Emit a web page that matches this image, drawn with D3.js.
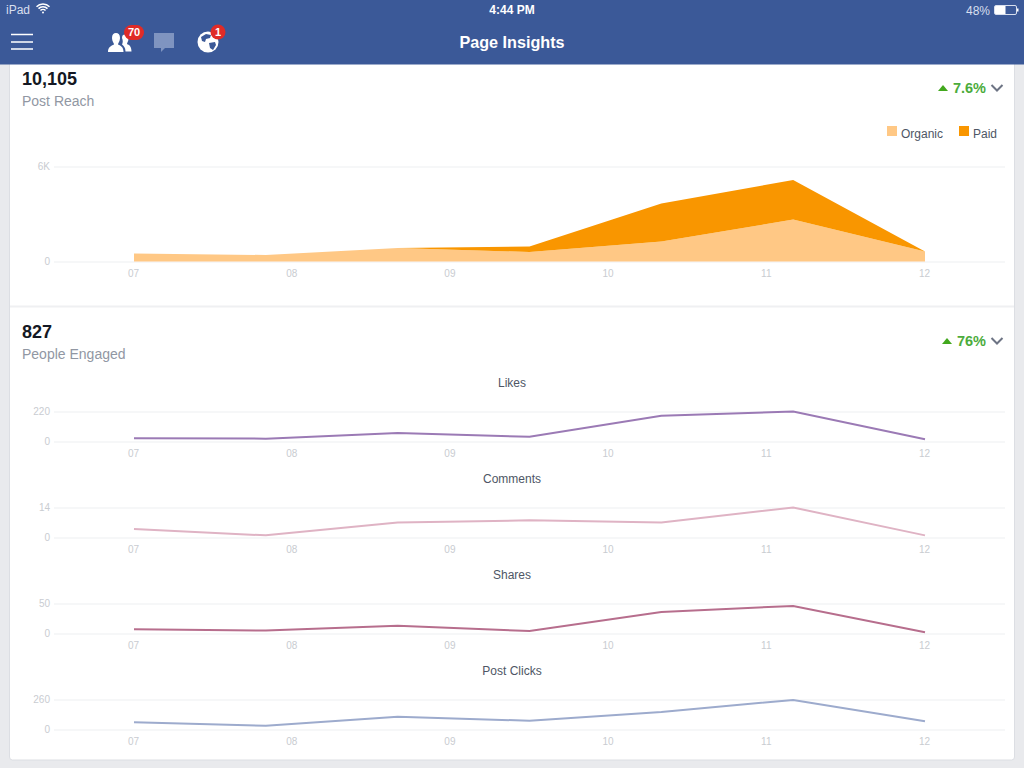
<!DOCTYPE html>
<html>
<head>
<meta charset="utf-8">
<script src="https://cdn.jsdelivr.net/npm/d3@7/dist/d3.min.js"></script>
<style>
  html, body { margin: 0; padding: 0; background: #e9eaed; overflow: hidden; }
  svg { display: block; font-family: "Liberation Sans", Arial, sans-serif; }
  .axis .domain { display: none; }
  .axis text { fill: #c9ccd1; font-size: 10px; font-family: "Liberation Sans", Arial, sans-serif; }
  .grid line { stroke: #f6f7f8; stroke-width: 2; }
  .xaxis line { display: none; }
</style>
</head>
<body>
<div id="chart"></div>
<script>
const samples = [0, 1, 2, 3, 4, 5, 6];
const dayLabels = ["07", "08", "09", "10", "11", "12"];

const organic = [505, 410, 850, 600, 1260, 2650, 630];
const paid = [0, 0, 0, 350, 2400, 2500, 0];
const reachTicks = [0, 6000];

const likes = [23, 21, 62, 35, 189, 220, 16];
const comments = [4, 1, 7, 8, 7, 14, 1];
const shares = [7, 5, 13, 4, 36, 46, 2];
const postClicks = [62, 33, 111, 76, 152, 256, 71];

const lineTitles = ["Likes", "Comments", "Shares", "Post Clicks"];
const lineSeries = [likes, comments, shares, postClicks];
const lineMax = [220, 14, 50, 260];
const lineColors = ["#9b7ab5", "#dfb3c4", "#b76e8d", "#9dabcd"];

const W = 1024, H = 768;
const svg = d3.select("#chart").append("svg").attr("width", W).attr("height", H);

// page background + card
svg.append("rect").attr("width", W).attr("height", H).attr("fill", "#e9eaed");
svg.append("rect").attr("x", 9.5).attr("y", 40).attr("width", 1005).attr("height", 720)
  .attr("rx", 3).attr("fill", "#fff").attr("stroke", "#dcdee3");
svg.append("rect").attr("x", 10).attr("y", 305.5).attr("width", 1004).attr("height", 2).attr("fill", "#eff0f2");

const x = d3.scalePoint().domain(samples).range([134, 925]);
const xLabels = d3.scalePoint().domain(dayLabels).range([134, 925]);

function drawAxes(y, ticks, fmt) {
  svg.append("g").attr("class", "axis grid")
    .attr("transform", "translate(54,0)")
    .call(d3.axisLeft(y).tickValues(ticks).tickFormat(fmt).tickSize(-951).tickPadding(4));
  svg.append("g").attr("class", "axis xaxis")
    .attr("transform", `translate(-1,${y(0)})`)
    .call(d3.axisBottom(xLabels).tickSize(0).tickPadding(8));
}

// Post Reach stacked area
const reachY = d3.scaleLinear().domain([0, 6000]).range([261.5, 166.5]);
drawAxes(reachY, reachTicks, d => d === 0 ? "0" : (d / 1000) + "K");

const reachRows = samples.map(i => ({ i, organic: organic[i], paid: paid[i] }));
const stacked = d3.stack().keys(["organic", "paid"])(reachRows);
const area = d3.area().x(d => x(d.data.i)).y0(d => reachY(d[0])).y1(d => reachY(d[1]));
const areaColors = { organic: "#ffc885", paid: "#f99600" };
svg.selectAll("path.reach").data(stacked).enter().append("path")
  .attr("class", "reach")
  .attr("d", area)
  .attr("fill", d => areaColors[d.key]);

// legend
[["Organic", 887, areaColors.organic], ["Paid", 959, areaColors.paid]].forEach(([name, lx, col]) => {
  svg.append("rect").attr("x", lx).attr("y", 126).attr("width", 10).attr("height", 10).attr("fill", col);
  svg.append("text").attr("x", lx + 14).attr("y", 138).attr("font-size", 12).attr("fill", "#4e5665").text(name);
});

// the four small line charts
const panelZero = [441.5, 537.5, 633.5, 729.5];
lineSeries.forEach((vals, k) => {
  const zero = panelZero[k];
  const y = d3.scaleLinear().domain([0, lineMax[k]]).range([zero, zero - 30]);
  drawAxes(y, [0, lineMax[k]], d3.format("d"));
  svg.append("path").datum(vals)
    .attr("fill", "none")
    .attr("stroke", lineColors[k])
    .attr("stroke-width", 2)
    .attr("d", d3.line().x((d, i) => x(i)).y(d => y(d)));
  svg.append("text").attr("x", 512).attr("y", zero - 54.5).attr("text-anchor", "middle")
    .attr("font-size", 12).attr("fill", "#4e5665").text(lineTitles[k]);
});

// card headings
function heading(big, small, pct, yBig, triX) {
  svg.append("text").attr("x", 22).attr("y", yBig).attr("font-size", 18).attr("font-weight", "bold")
    .attr("fill", "#141823").text(big);
  svg.append("text").attr("x", 22).attr("y", yBig + 21).attr("font-size", 14).attr("fill", "#9197a3").text(small);
  svg.append("path").attr("d", `M${triX},${yBig + 6}l5,-6l5,6z`).attr("fill", "#42a81e");
  svg.append("text").attr("x", 986).attr("y", yBig + 8).attr("text-anchor", "end").attr("font-size", 14.5)
    .attr("font-weight", "bold").attr("fill", "#4cac3c").text(pct);
  svg.append("path").attr("d", `M991.5,${yBig}l5.5,5.5l5.5,-5.5`).attr("fill", "none")
    .attr("stroke", "#6d7484").attr("stroke-width", 2);
}
heading("10,105", "Post Reach", "7.6%", 85, 938);
heading("827", "People Engaged", "76%", 338, 942);

// top bar
svg.append("rect").attr("width", W).attr("height", 64.5).attr("fill", "#3b5998");
const bar = svg.append("g").attr("fill", "#fff");
bar.append("text").attr("x", 6).attr("y", 14).attr("font-size", 12).attr("fill", "#d8dfee").text("iPad");
bar.append("text").attr("x", 512).attr("y", 14).attr("font-size", 12).attr("font-weight", "bold")
  .attr("text-anchor", "middle").text("4:44 PM");
bar.append("text").attr("x", 990).attr("y", 14.5).attr("font-size", 12).attr("text-anchor", "end")
  .attr("fill", "#d8dfee").text("48%");
bar.append("text").attr("x", 512).attr("y", 48).attr("font-size", 16.2).attr("font-weight", "bold")
  .attr("text-anchor", "middle").text("Page Insights");

// wifi
[8.3, 5.5, 2.8].forEach(r => {
  bar.append("path").attr("d", d3.arc()({ innerRadius: r, outerRadius: r + 1.5, startAngle: -0.8, endAngle: 0.8 }))
    .attr("transform", "translate(43,13)");
});
bar.append("circle").attr("cx", 43).attr("cy", 12.4).attr("r", 1);

// battery
svg.append("rect").attr("x", 994.5).attr("y", 5.5).attr("width", 22).attr("height", 9).attr("rx", 1.5)
  .attr("fill", "none").attr("stroke", "#d8dfee");
bar.append("rect").attr("x", 995).attr("y", 6).attr("width", 10.5).attr("height", 8);
bar.append("rect").attr("x", 1017).attr("y", 8.5).attr("width", 1.5).attr("height", 3);

// hamburger
[34.5, 42, 49].forEach(ly => {
  bar.append("rect").attr("x", 11).attr("y", ly - 0.75).attr("width", 22).attr("height", 1.5);
});

// friends icon
bar.append("path").attr("d", "M108,52c0,-5 3,-6 6,-7.5c0,-1.5 -2,-3 -2,-6.5c0,-3.5 1.5,-5 4,-5c2.5,0 4,1.5 4,5c0,3.5 -2,5 -2,6.5c3,1.5 5.5,2.5 5.5,7.5z");
bar.append("path").attr("d", "M122,38c0,-2.5 1,-3.5 3,-3.5c2,0 3.5,1.5 3.5,4c0,3 -1.5,4 -1.5,5.5c2,1 4.5,2 4.5,7.5l-6,0c0,-4 -2,-6 -3.5,-7c1,-2 1,-4 0,-6.5z");

// messages icon
svg.append("path").attr("d", "M154,33h20v15h-9l-4,4v-4h-7z").attr("fill", "#7f94c0");

// globe icon
bar.append("circle").attr("cx", 208).attr("cy", 42).attr("r", 10.5);
svg.append("path").attr("d", "M201,37l5,-3l5,1l-1,3l-4,1l-1,3l-3,-1zM209,43l6,-1l1,3l-3,5l-3,-2z").attr("fill", "#3b5998");

// badges go last so the numbers sit on top
svg.append("rect").attr("x", 124).attr("y", 25).attr("width", 20).attr("height", 15).attr("rx", 7.5).attr("fill", "#e02b27");
svg.append("text").attr("x", 134).attr("y", 36).attr("font-size", 11).attr("font-weight", "bold")
  .attr("fill", "#fff").attr("text-anchor", "middle").text("70");
svg.append("circle").attr("cx", 218).attr("cy", 32).attr("r", 7.5).attr("fill", "#e02b27");
svg.append("text").attr("x", 218).attr("y", 36).attr("font-size", 11).attr("font-weight", "bold")
  .attr("fill", "#fff").attr("text-anchor", "middle").text("1");
</script>
</body>
</html>
